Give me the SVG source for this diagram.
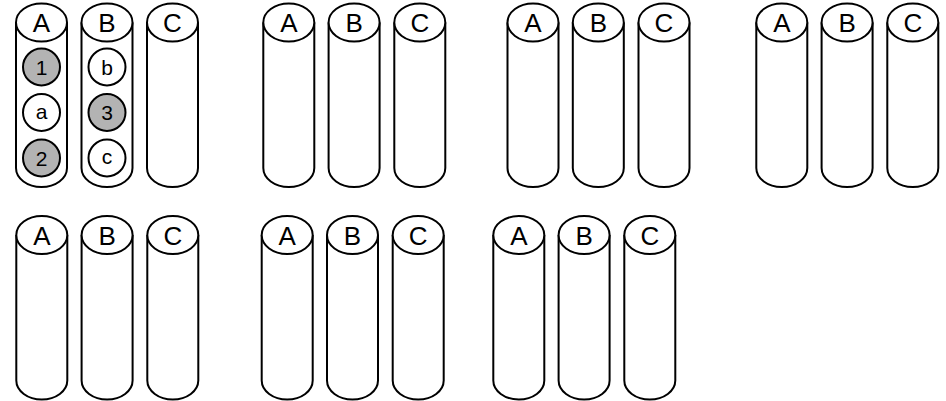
<svg xmlns="http://www.w3.org/2000/svg" xmlns:xlink="http://www.w3.org/1999/xlink" width="946" height="401" viewBox="0 0 946 401">
<style>
.cyl{fill:#fff;stroke:#000;stroke-width:2}
.lbl{font-family:"Liberation Sans",Arial,sans-serif;font-size:26px;text-anchor:middle;fill:#000}
.ball{stroke:#000;stroke-width:2}
.w{fill:#fff}.g{fill:#b3b3b3}
.bl{font-family:"Liberation Sans",Arial,sans-serif;font-size:21px;text-anchor:middle;fill:#000}
</style>
<defs>
<g id="cyl">
<path class="cyl" d="M0,0 L0,145.5 A25.5,19 0 0 0 51,145.5 L51,0"/>
<ellipse class="cyl" cx="25.5" cy="0" rx="25.5" ry="19"/>
</g>
</defs>
<g id="g1">
<g id="g1A"><use xlink:href="#cyl" x="16" y="22.5"/><text class="lbl" x="41.5" y="32">A</text>
<circle class="ball g" cx="41.5" cy="67" r="18.5"/><text class="bl" x="41.5" y="74.5">1</text>
<circle class="ball w" cx="41.5" cy="112.5" r="18.5"/><text class="bl" x="41.5" y="118.5">a</text>
<circle class="ball g" cx="41.5" cy="158" r="18.5"/><text class="bl" x="41.5" y="165.5">2</text>
</g>
<g id="g1B"><use xlink:href="#cyl" x="81.5" y="22.5"/><text class="lbl" x="107" y="32">B</text>
<circle class="ball w" cx="107" cy="67" r="18.5"/><text class="bl" x="107" y="74.5">b</text>
<circle class="ball g" cx="107" cy="112.5" r="18.5"/><text class="bl" x="107" y="120">3</text>
<circle class="ball w" cx="107" cy="158" r="18.5"/><text class="bl" x="107" y="164">c</text>
</g>
<g id="g1C"><use xlink:href="#cyl" x="147" y="22.5"/><text class="lbl" x="172.5" y="32">C</text></g>
</g>
<g id="g2">
<g id="g2A"><use xlink:href="#cyl" x="263.3" y="22.5"/><text class="lbl" x="288.8" y="32">A</text></g>
<g id="g2B"><use xlink:href="#cyl" x="328.6" y="22.5"/><text class="lbl" x="354.1" y="32">B</text></g>
<g id="g2C"><use xlink:href="#cyl" x="394.3" y="22.5"/><text class="lbl" x="419.8" y="32">C</text></g>
</g>
<g id="g3">
<g id="g3A"><use xlink:href="#cyl" x="507.5" y="22.5"/><text class="lbl" x="533" y="32">A</text></g>
<g id="g3B"><use xlink:href="#cyl" x="572.8" y="22.5"/><text class="lbl" x="598.3" y="32">B</text></g>
<g id="g3C"><use xlink:href="#cyl" x="638.5" y="22.5"/><text class="lbl" x="664" y="32">C</text></g>
</g>
<g id="g4">
<g id="g4A"><use xlink:href="#cyl" x="756.3" y="22.5"/><text class="lbl" x="781.8" y="32">A</text></g>
<g id="g4B"><use xlink:href="#cyl" x="821.6" y="22.5"/><text class="lbl" x="847.1" y="32">B</text></g>
<g id="g4C"><use xlink:href="#cyl" x="887.3" y="22.5"/><text class="lbl" x="912.8" y="32">C</text></g>
</g>
<g id="g5">
<g id="g5A"><use xlink:href="#cyl" x="16.3" y="235"/><text class="lbl" x="41.8" y="244.5">A</text></g>
<g id="g5B"><use xlink:href="#cyl" x="81.6" y="235"/><text class="lbl" x="107.1" y="244.5">B</text></g>
<g id="g5C"><use xlink:href="#cyl" x="147.3" y="235"/><text class="lbl" x="172.8" y="244.5">C</text></g>
</g>
<g id="g6">
<g id="g6A"><use xlink:href="#cyl" x="261.7" y="235"/><text class="lbl" x="287.2" y="244.5">A</text></g>
<g id="g6B"><use xlink:href="#cyl" x="327" y="235"/><text class="lbl" x="352.5" y="244.5">B</text></g>
<g id="g6C"><use xlink:href="#cyl" x="392.7" y="235"/><text class="lbl" x="418.2" y="244.5">C</text></g>
</g>
<g id="g7">
<g id="g7A"><use xlink:href="#cyl" x="493.3" y="235"/><text class="lbl" x="518.8" y="244.5">A</text></g>
<g id="g7B"><use xlink:href="#cyl" x="558.6" y="235"/><text class="lbl" x="584.1" y="244.5">B</text></g>
<g id="g7C"><use xlink:href="#cyl" x="624.3" y="235"/><text class="lbl" x="649.8" y="244.5">C</text></g>
</g>
<g id="connectors"/>
</svg>
